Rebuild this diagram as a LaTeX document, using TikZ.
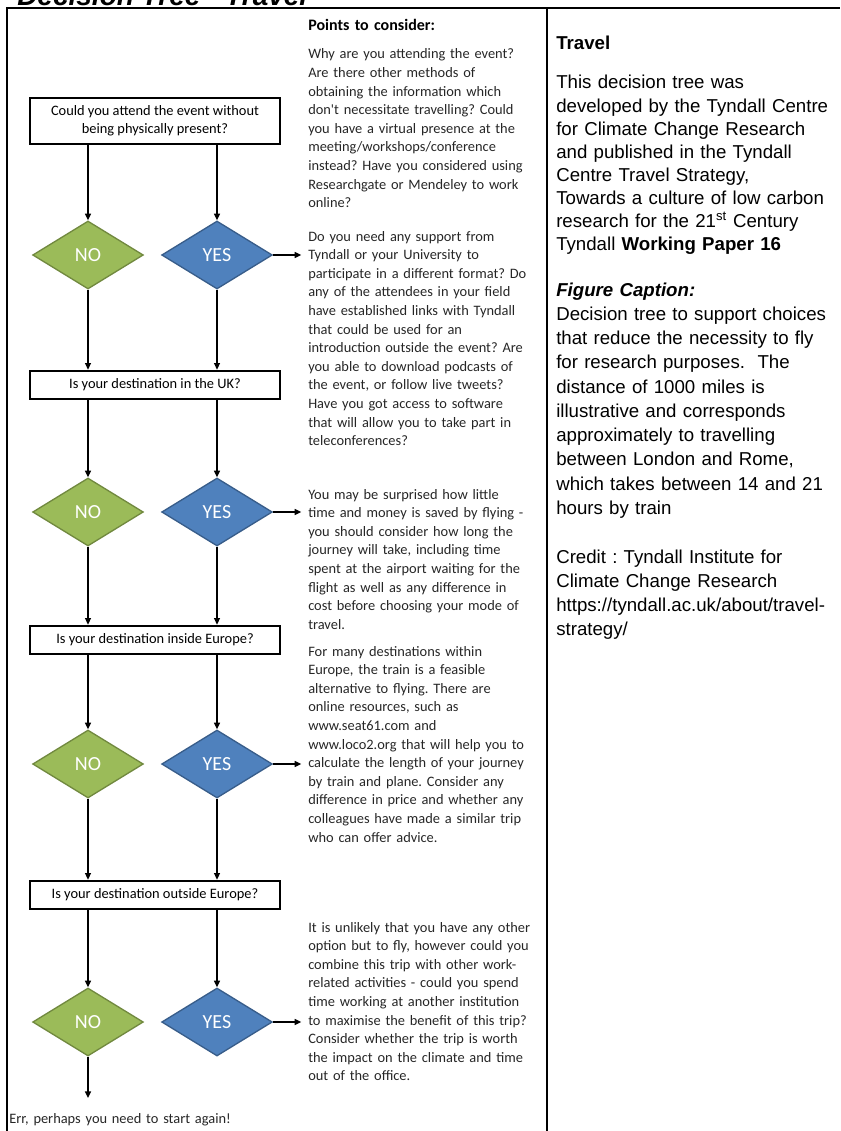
\documentclass[tikz,border=0pt]{standalone}
\usepackage{fontspec}
\setmainfont{Carlito}
\newfontfamily\arialfont{Liberation Sans}
\usepackage{xcolor}
\usepackage{tikz}
\usetikzlibrary{arrows.meta,shapes.geometric}

\definecolor{nogreen}{HTML}{9BBB59}
\definecolor{nogreenline}{HTML}{71893F}
\definecolor{yesblue}{HTML}{4F81BD}
\definecolor{yesblueline}{HTML}{385D8A}
\definecolor{notetext}{HTML}{262626}

\tikzset{
  qbox/.style={draw,line width=2pt,minimum width=187.5pt,inner sep=0pt,align=center,
    font=\fontsize{10.8}{13.8}\selectfont},
  dia/.style={diamond,minimum width=83pt,minimum height=51pt,inner sep=0pt,line width=1pt,
    text=white,font=\fontsize{15}{18}\selectfont},
  nodia/.style={dia,fill=nogreen,draw=nogreenline},
  yesdia/.style={dia,fill=yesblue,draw=yesblueline},
  arr/.style={-{Triangle[length=5pt,width=4.5pt]},line width=1.1pt},
  note/.style={anchor=base west,inner sep=0pt,text width=192pt,align=left,text=notetext,
    font=\fontsize{10.8}{13.95}\selectfont},
  side/.style={anchor=base west,inner sep=0pt,text width=212pt,align=left,
    font=\arialfont\fontsize{14}{18.2}\selectfont},
  frame/.style={line width=1.2pt},
}

\begin{document}
\frenchspacing
\begin{tikzpicture}[x=0.75pt,y=-0.75pt]
\useasboundingbox (0,0) rectangle (840,1131);
\clip (0,0) rectangle (840,1131);

\node at (17,6) (title)[anchor=base west,inner sep=0pt,font=\arialfont\bfseries\itshape\fontsize{21}{25}\selectfont]{Decision Tree - Travel};
\draw[frame] (7,1131) -- (7,8) -- (840,8);
\draw[frame] (547,8) -- (547,1131);

% questions
\node at (155,121) (q1)[qbox,minimum height=34.5pt]{Could you attend the event without\\being physically present?};
\node at (155,385) (q2)[qbox,minimum height=21pt]{Is your destination in the UK?};
\node at (155,640) (q3)[qbox,minimum height=21pt]{Is your destination inside Europe?};
\node at (155,895) (q4)[qbox,minimum height=21pt]{Is your destination outside Europe?};

% answers
\node at (88,255) (no1)[nodia]{NO};
\node at (217,255) (yes1)[yesdia]{YES};
\node at (88,512) (no2)[nodia]{NO};
\node at (217,512) (yes2)[yesdia]{YES};
\node at (88,764) (no3)[nodia]{NO};
\node at (217,764) (yes3)[yesdia]{YES};
\node at (88,1022) (no4)[nodia]{NO};
\node at (217,1022) (yes4)[yesdia]{YES};

% points to consider
\node at (308,31) (pts)[note,text=black,font=\bfseries\fontsize{12}{14}\selectfont]{Points to consider:};
\node at (308,59) (t1)[note]{Why are you attending the event?\\
Are there other methods of\\
obtaining the information which\\
don\textquotesingle t necessitate travelling? Could\\
you have a virtual presence at the\\
meeting/workshops/conference\\
instead? Have you considered using\\
Researchgate or Mendeley to work\\
online?};
\node at (308,241) (t2)[note]{Do you need any support from\\
Tyndall or your University to\\
participate in a different format? Do\\
any of the attendees in your field\\
have established links with Tyndall\\
that could be used for an\\
introduction outside the event? Are\\
you able to download podcasts of\\
the event, or follow live tweets?\\
Have you got access to software\\
that will allow you to take part in\\
teleconferences?};
\node at (308,499) (t3)[note]{You may be surprised how little\\
time and money is saved by flying -\\
you should consider how long the\\
journey will take, including time\\
spent at the airport waiting for the\\
flight as well as any difference in\\
cost before choosing your mode of\\
travel.};
\node at (308,656) (t4)[note]{For many destinations within\\
Europe, the train is a feasible\\
alternative to flying. There are\\
online resources, such as\\
www.seat61.com and\\
www.loco2.org that will help you to\\
calculate the length of your journey\\
by train and plane. Consider any\\
difference in price and whether any\\
colleagues have made a similar trip\\
who can offer advice.};
\node at (308,932) (t5)[note]{It is unlikely that you have any other\\
option but to fly, however could you\\
combine this trip with other work-\\
related activities - could you spend\\
time working at another institution\\
to maximise the benefit of this trip?\\
Consider whether the trip is worth\\
the impact on the climate and time\\
out of the office.};

\node at (9,1123) (err)[note,text width=300pt]{Err, perhaps you need to start again!};
\coordinate (stop) at (88,1098);

% flow
\foreach \qq/\nn/\yy in {q1/no1/yes1,q2/no2/yes2,q3/no3/yes3,q4/no4/yes4}{
  \draw[arr] (\qq.south -| \nn) -- (\nn.north);
  \draw[arr] (\qq.south -| \yy) -- (\yy.north);
}
\foreach \nn/\yy/\qq in {no1/yes1/q2,no2/yes2/q3,no3/yes3/q4}{
  \draw[arr] (\nn.south) -- (\nn.south |- \qq.north);
  \draw[arr] (\yy.south) -- (\yy.south |- \qq.north);
}
\foreach \yy/\tt in {yes1/t2,yes2/t3,yes3/t4,yes4/t5}
  \draw[arr] (\yy.east) -- ([xshift=-5pt]\yy.east -| \tt.west);
\draw[arr] (no4.south) -- (stop);

% side notes
\node at (556,50) (trv)[side,font=\arialfont\bfseries\fontsize{14}{18.2}\selectfont]{Travel};
\node at (556,89) (dev)[side,font=\arialfont\fontsize{14}{17.3}\selectfont]{This decision tree was\\
developed by the Tyndall Centre\\
for Climate Change Research\\
and published in the Tyndall\\
Centre Travel Strategy,\\
Towards a culture of low carbon\\
research for the 21\textsuperscript{st} Century\\
Tyndall \textbf{Working Paper 16}};
\node at (556,296) (cap)[side]{\textbf{\itshape Figure Caption:}\\
Decision tree to support choices\\
that reduce the necessity to fly\\
for research purposes.\ \ The\\
distance of 1000 miles is\\
illustrative and corresponds\\
approximately to travelling\\
between London and Rome,\\
which takes between 14 and 21\\
hours by train};
\node at (556,563) (crd)[side]{Credit : Tyndall Institute for\\
Climate Change Research\\
https://tyndall.ac.uk/about/travel-\\
strategy/};
\end{tikzpicture}
\end{document}
